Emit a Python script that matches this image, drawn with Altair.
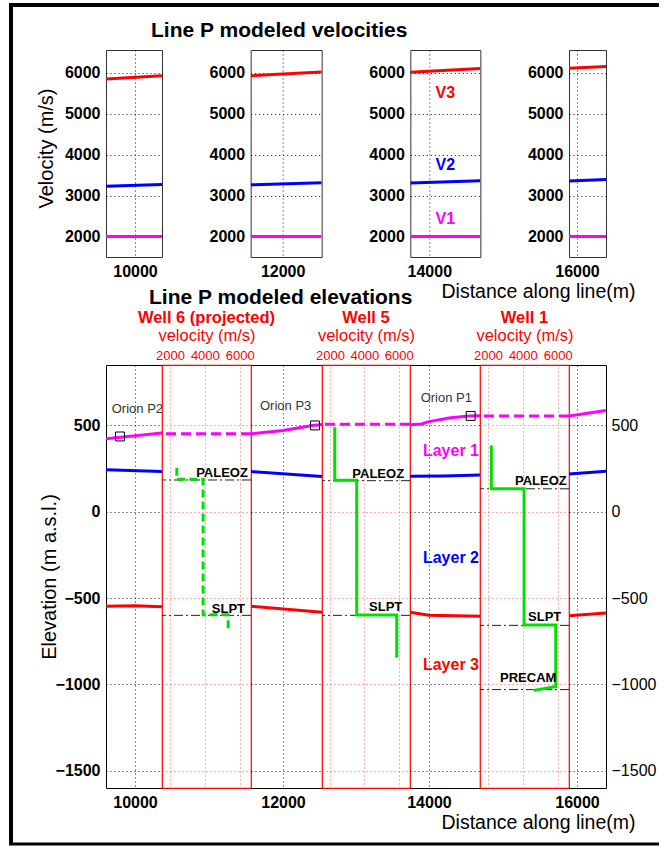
import altair as alt
import pandas as pd

FONT = "Liberation Sans"
RED = "#ff0000"
BLUE = "#0000ff"
MAG = "#ff00ff"
GREEN = "#00e000"
GRID_RED = "#ff4d4d"

# ---------------- data ----------------
# distance windows of the four model panels (m along line)
seg_lo = [9605, 11565, 13742, 15891]
seg_hi = [10367, 12530, 14694, 16395]
seg_tick = [10000, 12000, 14000, 16000]
seg_w = [56, 71, 70, 37]
well_w = [89, 88, 89]

# modeled velocities (top panels)
vel_dist = [9605, 10367, 11565, 12530, 13742, 14694, 15891, 16395]
vel_seg = [0, 0, 1, 1, 2, 2, 3, 3]
v1_vals = [2000, 2000, 2000, 2000, 2000, 2000, 2000, 2000]
v2_vals = [3230, 3270, 3265, 3315, 3310, 3365, 3360, 3395]
v3_vals = [5850, 5930, 5930, 6020, 6015, 6105, 6115, 6155]

vlab_text = ["V3", "V2", "V1"]
vlab_dist = [14218, 14218, 14218]
vlab_v = [5510, 3750, 2420]

# modeled interfaces (bottom panel)
top1_dist = [9605, 10367, 11565, 12000, 12400, 12530, 13742, 13900, 14000, 14270, 14544, 14694, 15891, 16395]
top1_seg = [0, 0, 1, 1, 1, 1, 2, 2, 2, 2, 2, 2, 3, 3]
top1_elev = [423, 456, 452, 471, 500, 505, 504, 508, 522, 543, 555, 556, 554, 587]

base1_dist = [9605, 10367, 11565, 12530, 13742, 14200, 14694, 15891, 16395]
base1_seg = [0, 0, 1, 1, 2, 2, 2, 3, 3]
base1_elev = [243, 233, 233, 204, 205, 207, 213, 218, 234]

base2_dist = [9605, 10000, 10367, 11565, 12530, 13742, 14000, 14694, 15891, 16395]
base2_seg = [0, 0, 0, 1, 1, 2, 2, 2, 3, 3]
base2_elev = [-548, -545, -550, -548, -582, -582, -600, -605, -603, -587]

orion_name = ["Orion P2", "Orion P3", "Orion P1"]
orion_seg = [0, 1, 2]
orion_dist = [9795, 12435, 14567]
orion_elev = [436, 500, 555]
orion_lbl_dist = [9683, 11687, 13887]
orion_lbl_elev = [596, 614, 656]

layer_text = ["Layer 1", "Layer 2", "Layer 3"]
layer_dist = [14680, 14680, 14680]
layer_elev = [350, -265, -885]

# wells
well_name = ["Well 6 (projected)", "Well 5", "Well 1"]
well_surface = [452, 507, 555]

log_well = [0] * 6 + [1] * 6 + [2] * 7
log_vel = [2390, 2390, 3900, 3900, 5340, 5340,
           2280, 2280, 3555, 3555, 5880, 5880,
           2190, 2190, 4070, 4070, 5890, 5890, 4620]
log_elev = [255, 188, 188, -597, -597, -690,
            490, 183, 183, -598, -598, -845,
            385, 133, 133, -656, -656, -1012, -1035]

hz_well = [0, 0, 1, 1, 2, 2, 2]
hz_name = ["PALEOZ", "SLPT", "PALEOZ", "SLPT", "PALEOZ", "SLPT", "PRECAM"]
hz_elev = [184, -600, 180, -600, 133, -658, -1030]
hz_lbl_vel = [3500, 4400, 3300, 4270, 3550, 4300, 2690]
hz_lbl_elev = [224, -564, 219, -549, 180, -610, -965]

VEL_TICKS = [2000, 3000, 4000, 5000, 6000]
ELEV_TICKS = [-1500, -1000, -500, 0, 500]
WELL_VEL_TICKS = [2000, 4000, 6000]

# ---------------- tables ----------------
vel_df = pd.DataFrame({
    "dist": vel_dist * 3,
    "seg": vel_seg * 3,
    "layer": ["V1"] * 8 + ["V2"] * 8 + ["V3"] * 8,
    "v": v1_vals + v2_vals + v3_vals,
})
vlab_df = pd.DataFrame({"dist": vlab_dist, "v": vlab_v, "text": vlab_text, "layer": ["V3", "V2", "V1"]})

if_df = pd.DataFrame({
    "dist": top1_dist + base1_dist + base2_dist,
    "seg": top1_seg + base1_seg + base2_seg,
    "iface": ["top"] * len(top1_dist) + ["b1"] * len(base1_dist) + ["b2"] * len(base2_dist),
    "elev": top1_elev + base1_elev + base2_elev,
})
orion_df = pd.DataFrame({"seg": orion_seg, "dist": orion_dist, "elev": orion_elev})
orion_lbl_df = pd.DataFrame({"seg": orion_seg, "dist": orion_lbl_dist, "elev": orion_lbl_elev, "text": orion_name})
layer_df = pd.DataFrame({"dist": layer_dist, "elev": layer_elev, "text": layer_text, "iface": ["top", "b1", "b2"]})

log_df = pd.DataFrame({"well": log_well, "vel": log_vel, "elev": log_elev,
                       "idx": list(range(len(log_vel)))})
surf_df = pd.DataFrame({"well": [0, 1, 2], "elev": well_surface})
hz_df = pd.DataFrame({"well": hz_well, "elev": hz_elev})
hz_lbl_df = pd.DataFrame({"well": hz_well, "vel": hz_lbl_vel, "elev": hz_lbl_elev, "text": hz_name})

ES = alt.Scale(domain=[-1600, 850], nice=False, zero=False)
VS_TOP = alt.Scale(domain=[1500, 6560], nice=False, zero=False)
VS_WELL = alt.Scale(domain=[1540, 6650], nice=False, zero=False)
VCOL = alt.Scale(domain=["V1", "V2", "V3"], range=[MAG, BLUE, RED])
ICOL = alt.Scale(domain=["top", "b1", "b2"], range=[MAG, BLUE, RED])


# ---------------- top row ----------------
def top_panel(i):
    xs = alt.Scale(domain=[seg_lo[i], seg_hi[i]], nice=False, zero=False)
    xkw = dict(values=[seg_tick[i]], format="d", labelPadding=6, grid=True)
    if i == 3:
        xkw.update(title="Distance along line(m)", titleFontSize=19.5, titleAlign="right",
                   titleX=66, titleY=40, titleBaseline="alphabetic")
    else:
        xkw["title"] = None
    ykw = dict(values=VEL_TICKS, format="d", labelPadding=6, grid=True)
    if i == 0:
        ykw.update(title="Velocity (m/s)", titleFontSize=20, titleAngle=270, titleX=-54,
                   titleY=98, titleBaseline="alphabetic", titleAlign="center")
    else:
        ykw["title"] = None
    X = alt.X("dist:Q", scale=xs, axis=alt.Axis(**xkw))
    Y = alt.Y("v:Q", scale=VS_TOP, axis=alt.Axis(**ykw))
    layers = [
        alt.Chart(vel_df).transform_filter(alt.datum.seg == i)
        .mark_line(strokeWidth=3, clip=True)
        .encode(x=X, y=Y, color=alt.Color("layer:N", scale=VCOL, legend=None))
    ]
    if i == 2:
        layers.append(
            alt.Chart(vlab_df).mark_text(font=FONT, fontSize=16, fontWeight="bold")
            .encode(x=X, y=Y, text="text:N", color=alt.Color("layer:N", scale=VCOL, legend=None))
        )
    if i == 3:
        # outer figure frame (decoration)
        d = pd.DataFrame({"k": [0]})
        layers.append(alt.Chart(d).mark_rule(color="black", strokeWidth=4)
                      .encode(x=alt.value(-558), y=alt.value(-47), y2=alt.value(794)))
        layers.append(alt.Chart(d).mark_rule(color="black", strokeWidth=4)
                      .encode(x=alt.value(-560), x2=alt.value(90), y=alt.value(-45)))
        layers.append(alt.Chart(d).mark_rule(color="black", strokeWidth=3)
                      .encode(x=alt.value(-560), x2=alt.value(90), y=alt.value(794)))
    props = dict(width=seg_w[i], height=207,
                 view=alt.ViewBackground(stroke="#333333", strokeWidth=1))
    if i == 0:
        props["title"] = alt.TitleParams("Line P modeled velocities", font=FONT, fontSize=21,
                                         fontWeight="bold", color="black", anchor="start",
                                         frame="group", dx=45, dy=22, offset=14,
                                         baseline="alphabetic")
    if i == 1:
        props["title"] = alt.TitleParams("Line P modeled elevations", font=FONT, fontSize=21,
                                         fontWeight="bold", color="black", anchor="start",
                                         frame="group", dx=-101.67, offset=25, orient="bottom",
                                         baseline="alphabetic")
    return alt.layer(*layers).properties(**props)


# ---------------- bottom row ----------------
def seg_panel(i):
    xs = alt.Scale(domain=[seg_lo[i], seg_hi[i]], nice=False, zero=False)
    xkw = dict(values=[seg_tick[i]], format="d", labelPadding=6, grid=True, domain=True,
               domainColor="black", domainWidth=1)
    if i == 3:
        xkw.update(title="Distance along line(m)", titleFontSize=19.5, titleAlign="right",
                   titleX=66, titleY=40, titleBaseline="alphabetic")
    else:
        xkw["title"] = None
    X_bot = alt.X("dist:Q", scale=xs, axis=alt.Axis(**xkw))
    X_top = alt.X("dist:Q", scale=xs, axis=alt.Axis(orient="top", labels=False, grid=False,
                                                      domain=True, domainColor="black", title=None))
    X_no = alt.X("dist:Q", scale=xs, axis=None)
    ykw = dict(values=ELEV_TICKS, format="d", grid=True)
    if i == 0:
        ykw.update(orient="left", labelPadding=6, domain=True, domainColor="black",
                   title="Elevation (m a.s.l.)", titleFontSize=20, titleAngle=270, titleX=-51,
                   titleY=211.5, titleBaseline="alphabetic", titleAlign="center")
    elif i == 3:
        ykw.update(orient="right", labelPadding=5, labelFontWeight="normal", domain=True,
                   domainColor="black", title=None)
    else:
        ykw.update(labels=False, title=None)
    Y = alt.Y("elev:Q", scale=ES, axis=alt.Axis(**ykw))

    layers = [
        alt.Chart(if_df).transform_filter(alt.datum.seg == i)
        .mark_line(strokeWidth=3, clip=True)
        .encode(x=X_bot, y=Y, color=alt.Color("iface:N", scale=ICOL, legend=None)),
        alt.Chart(orion_df).transform_filter(alt.datum.seg == i)
        .mark_point(shape="square", size=80, filled=False, color="black", strokeWidth=1, opacity=1)
        .encode(x=X_top, y=Y),
        alt.Chart(orion_lbl_df).transform_filter(alt.datum.seg == i)
        .mark_text(align="left", baseline="middle", font=FONT, fontSize=13, color="#333333", clip=True)
        .encode(x=X_no, y=Y, text="text:N"),
    ]
    if i == 2:
        layers.append(
            alt.Chart(layer_df).mark_text(align="right", baseline="middle", font=FONT,
                                          fontSize=16, fontWeight="bold")
            .encode(x=X_no, y=Y, text="text:N", color=alt.Color("iface:N", scale=ICOL, legend=None))
        )
    return (alt.layer(*layers)
            .resolve_axis(x="independent")
            .properties(width=seg_w[i], height=423,
                        view=alt.ViewBackground(strokeWidth=0)))


def well_panel(j):
    X = alt.X("vel:Q", scale=VS_WELL,
              axis=alt.Axis(orient="top", values=WELL_VEL_TICKS, format="d", labelColor=RED,
                            labelFontSize=13, labelFontWeight="normal", labelPadding=6,
                            labelBaseline="alphabetic", title="velocity (m/s)", titleColor=RED,
                            titleFontSize=16.5, titleY=-24.5, titleBaseline="alphabetic",
                            grid=True, gridColor=GRID_RED))
    Y = alt.Y("elev:Q", scale=ES,
              axis=alt.Axis(values=ELEV_TICKS, labels=False, title=None, grid=True, gridColor=GRID_RED))
    line_kw = dict(color=GREEN, strokeWidth=3, clip=True)
    if j == 0:
        line_kw["strokeDash"] = [8, 4]
    layers = [
        alt.Chart(surf_df).transform_filter(alt.datum.well == j)
        .mark_rule(color=MAG, strokeWidth=3, strokeDash=[10, 5]).encode(y=Y),
        alt.Chart(hz_df).transform_filter(alt.datum.well == j)
        .mark_rule(color="#222222", strokeWidth=1, strokeDash=[9, 3, 2, 3]).encode(y=Y),
        alt.Chart(log_df).transform_filter(alt.datum.well == j)
        .mark_line(**line_kw).encode(x=X, y=Y, order="idx:Q"),
        alt.Chart(hz_lbl_df).transform_filter(alt.datum.well == j)
        .mark_text(align="left", baseline="middle", font=FONT, fontSize=13, fontWeight="bold",
                   color="black")
        .encode(x=X, y=Y, text="text:N"),
    ]
    return alt.layer(*layers).properties(
        width=well_w[j], height=423,
        view=alt.ViewBackground(stroke=RED, strokeWidth=1.2),
        title=alt.TitleParams(well_name[j], font=FONT, fontSize=16.5, fontWeight="bold", color=RED,
                              anchor="middle", frame="group", offset=2, dy=14,
                              baseline="alphabetic"),
    )


top_row = alt.hconcat(*[top_panel(i) for i in range(4)], spacing=88.67, bounds="flush")
bottom_row = alt.hconcat(seg_panel(0), well_panel(0), seg_panel(1), well_panel(1),
                         seg_panel(2), well_panel(2), seg_panel(3), spacing=0, bounds="flush")

chart = (
    alt.vconcat(top_row, bottom_row, spacing=315, bounds="flush")
    .properties(padding={"left": 6, "top": 0, "right": 0, "bottom": 0}, background="white")
    .configure_axis(labelFont=FONT, titleFont=FONT, domain=False, ticks=False,
                    labelColor="black", titleColor="black", gridColor="black",
                    gridDash=[1, 3], gridOpacity=0.9, labelFontSize=16,
                    labelFontWeight="bold", titleFontWeight="normal")
)

chart.save("out.html", embed_options={"renderer": "svg", "actions": False})
